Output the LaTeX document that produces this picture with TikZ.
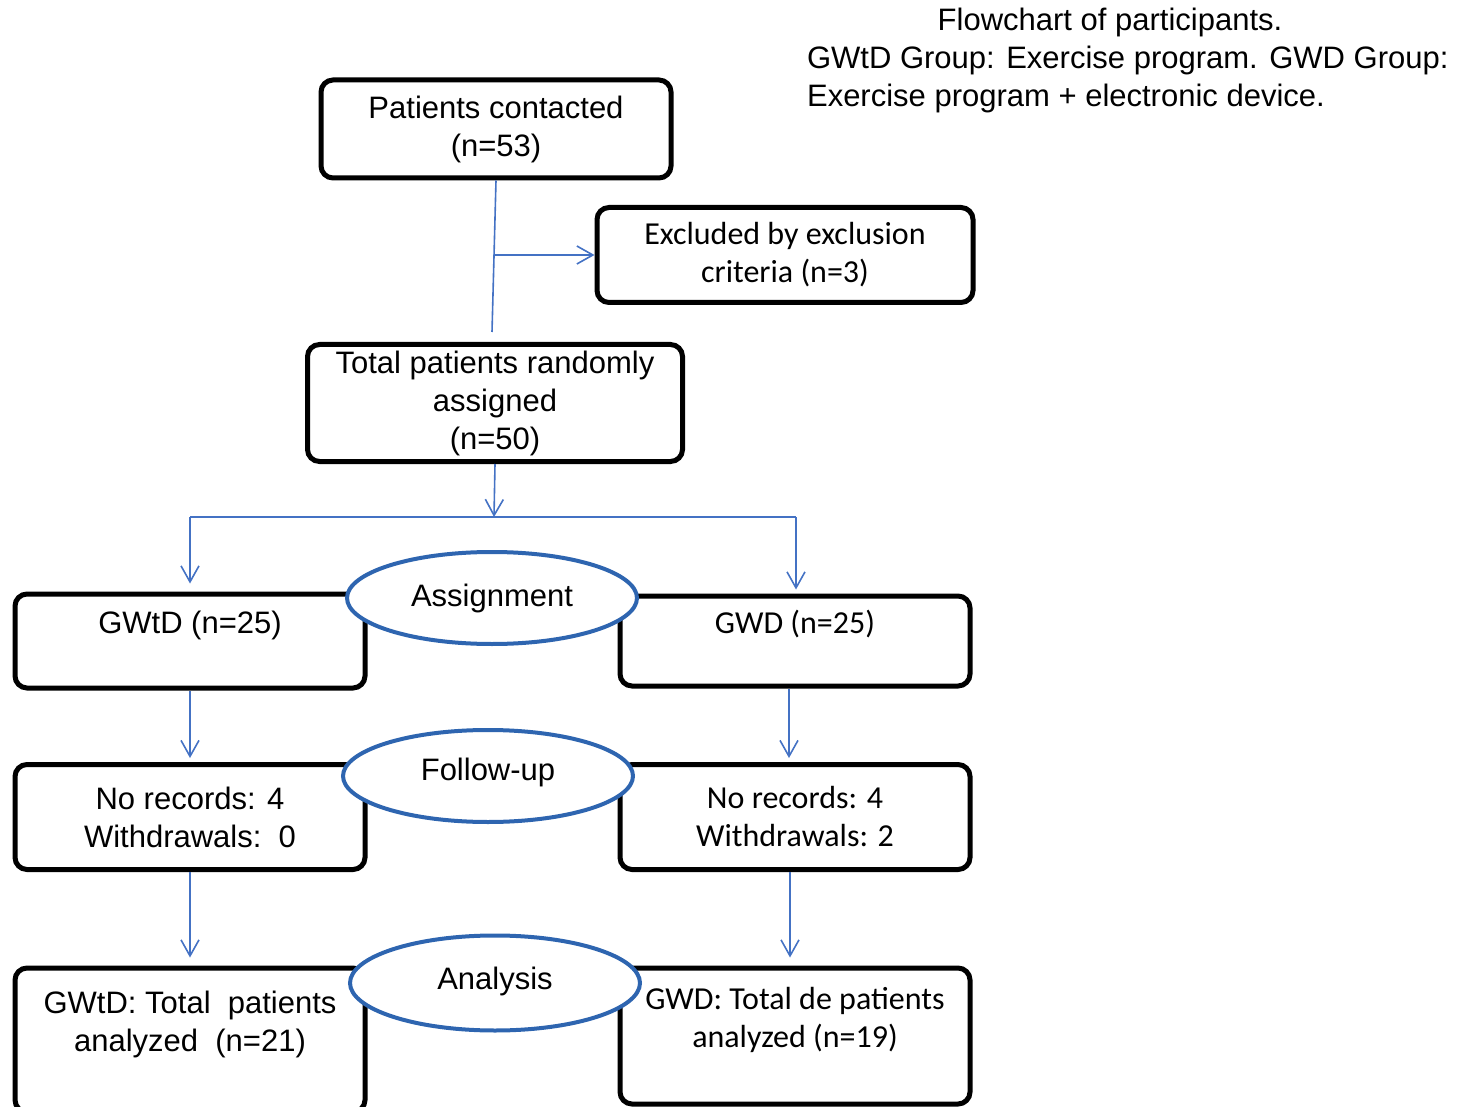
\documentclass[tikz,border=0pt]{standalone}
\usepackage{fontspec}
\setmainfont{Liberation Sans}
\newfontfamily\calib{Carlito}
\usetikzlibrary{arrows.meta,shapes.geometric}
\definecolor{ovalblue}{RGB}{46,101,176}
\definecolor{lineblue}{RGB}{68,114,196}
\def\boxw{175pt}
\def\leftx{190}
\def\rightx{795}

\begin{document}
\begin{tikzpicture}[
    x=0.5pt,y=-0.5pt,
    every node/.style={
      font=\fontsize{15.5}{19}\selectfont
    },
    arrowtip/.style={
      -{Straight Barb[length=8pt,width=9pt,line width=0.8pt]}
    },
    conn/.style={
      draw=lineblue,line width=0.8pt
    },
    flowbox/.style={
      draw,line width=2.5pt,rounded corners=6pt,align=center,
      minimum width=\boxw,inner sep=0pt
    },
    stage/.style={
      ellipse,draw=ovalblue,line width=2pt,fill=white,
      minimum width=145pt,minimum height=46pt,inner sep=0pt
    },
    cal/.style={
      font=\calib\fontsize{16}{19}\selectfont
    }
  ]
    \useasboundingbox (0,0) rectangle (1468,1107);

    % caption
    \node (title) at (1110,22) {Flowchart of participants.};
    \node[anchor=west] (titleB) at (800,60) {GWtD Group: Exercise program. GWD Group:};
    \node[anchor=west] (titleC) at (800,98) {Exercise program + electronic device.};

    % top boxes
    \node[flowbox,minimum height=49pt] (contacted) at (496,129)
      {Patients contacted\\(n=53)};
    \node[flowbox,cal,minimum width=188pt,minimum height=47.5pt] (excluded) at (785,255)
      {Excluded by exclusion\\criteria (n=3)};
    \node[flowbox,minimum width=187.5pt,minimum height=58.5pt] (randomized) at (495,403)
      {Total patients randomly\\assigned\\(n=50)};

    % left boxes
    \node[flowbox,minimum height=47pt] (gwtd) at (\leftx,641)
      {GWtD (n=25)\\\mbox{}};
    \node[flowbox,minimum height=52.5pt] (gwtdfollow) at (\leftx,817)
      {No records: 4\\Withdrawals:\ \ 0};
    \node[flowbox,minimum height=72pt] (gwtdanalysis) at (\leftx,1040)
      {GWtD: Total\ \ patients\\analyzed\ \ (n=21)\\\mbox{}};

    % right boxes
    \node[flowbox,cal,minimum height=45pt] (gwd) at (\rightx,641)
      {GWD (n=25)\\\mbox{}};
    \node[flowbox,cal,minimum height=52.5pt] (gwdfollow) at (\rightx,817)
      {No records: 4\\Withdrawals: 2};
    \node[flowbox,cal,minimum height=68pt] (gwdanalysis) at (\rightx,1036)
      {GWD: Total de patients\\analyzed (n=19)\\\mbox{}};

    % stages
    \node[stage] (assignment) at (492,598) {Assignment};
    \node[stage] (followup) at (488,776) {\raisebox{7pt}{Follow-up}};
    \node[stage,minimum height=47.5pt] (analysis) at (495,983) {\raisebox{5pt}{Analysis}};

    % arrows
    \coordinate (stem) at (492,332);
    \coordinate (split) at (494,255);
    \coordinate (fork) at (494,517);
    \coordinate (forkL) at (\leftx,517);
    \coordinate (forkR) at (796,517);
    \draw[conn] (contacted.south) -- (stem);
    \draw[conn,arrowtip] (split) -- (excluded.west);
    \draw[conn,arrowtip] (randomized.south) -- (fork);
    \draw[conn] (forkL) -- (forkR);
    \draw[conn,arrowtip,shorten >=4pt] (forkL) -- (gwtd.north);
    \draw[conn,arrowtip,shorten >=2pt] (forkR) -- (forkR |- gwd.north);
    \draw[conn,arrowtip,shorten >=2pt] (gwtd.south) -- (gwtdfollow.north);
    \draw[conn,arrowtip,shorten >=2pt] (gwd.south -| 789,0) -- (789,0 |- gwdfollow.north);
    \draw[conn,arrowtip,shorten >=4pt] (gwtdfollow.south) -- (gwtdanalysis.north);
    \draw[conn,arrowtip,shorten >=4pt] (gwdfollow.south -| 790,0) -- (790,0 |- gwdanalysis.north);
  \end{tikzpicture}
\end{document}
